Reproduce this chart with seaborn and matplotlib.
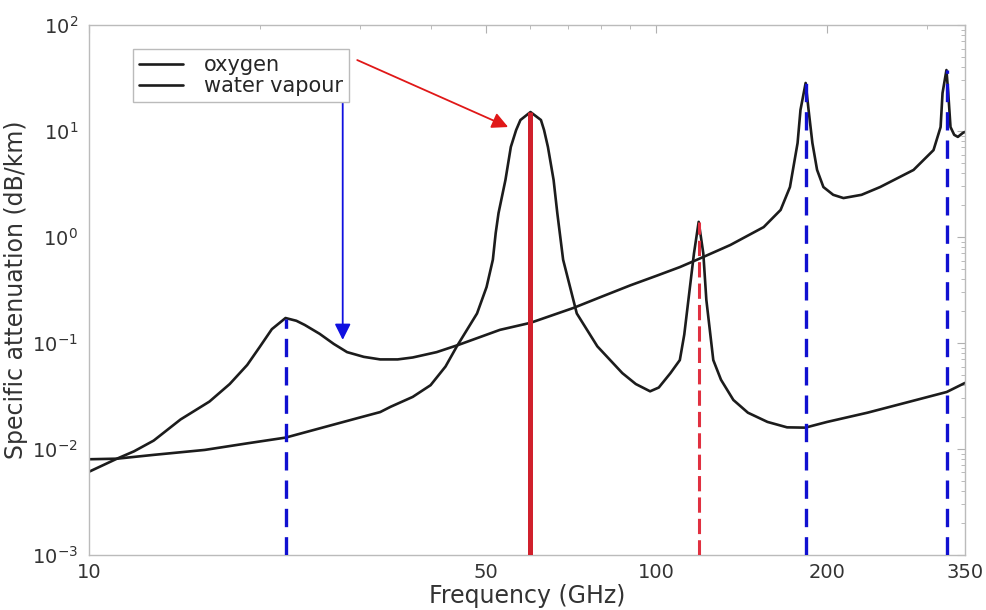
import matplotlib
matplotlib.use("Agg")
import matplotlib.pyplot as plt
import matplotlib.ticker as mticker
import seaborn as sns
import pandas as pd

# oxygen specific attenuation (dB/km)
freq_o2 = [10, 11.2, 13, 16, 19, 22.2, 27, 30, 32.6, 34, 37.2, 40, 42.5, 44.5,
           48.3, 50.2, 51.5, 52.1, 52.7, 54.2, 55.4, 56.6, 57.6, 60, 62.6, 63.4,
           64.4, 65.9, 66.9, 68.5, 72.4, 78.7, 87.1, 92, 97.5, 101, 105.9, 110,
           112, 113.9, 116.5, 118.75, 121, 122.5, 126, 130, 136.7, 145, 157,
           170, 183, 200, 235.6, 280, 325, 350]
att_o2 = [0.0080, 0.0081, 0.0088, 0.0098, 0.0113, 0.0128, 0.0170, 0.0198,
          0.0223, 0.025, 0.031, 0.040, 0.060, 0.093, 0.19, 0.337, 0.61, 1.09,
          1.68, 3.45, 7.07, 10.2, 12.7, 15.1, 12.7, 10.2, 7.07, 3.45, 1.68,
          0.61, 0.19, 0.093, 0.052, 0.041, 0.035, 0.038, 0.052, 0.069, 0.12,
          0.255, 0.7, 1.39, 0.7, 0.255, 0.069, 0.045, 0.029, 0.022, 0.018,
          0.016, 0.0159, 0.018, 0.022, 0.028, 0.0345, 0.042]

# water vapour specific attenuation (dB/km)
freq_h2o = [10, 11.2, 12, 13, 14.5, 16.3, 17.7, 19, 20, 21, 22.2, 23.2, 24,
            25.5, 27, 28.5, 30.5, 32.6, 35, 37.2, 41, 44.8, 53, 60, 71.4, 79.6,
            90, 100, 110, 118.75, 135, 154.6, 165.6, 172, 177.4, 179.5, 183.3,
            185.5, 188.4, 192, 197, 205, 213.7, 230, 248, 284, 308, 317, 319.5,
            324.6, 327, 330, 335, 340, 347, 350]
att_h2o = [0.0061, 0.0081, 0.0095, 0.012, 0.019, 0.028, 0.041, 0.062, 0.092,
           0.135, 0.172, 0.162, 0.148, 0.122, 0.098, 0.082, 0.074, 0.070,
           0.070, 0.073, 0.082, 0.096, 0.133, 0.155, 0.214, 0.27, 0.35, 0.43,
           0.52, 0.62, 0.84, 1.24, 1.8, 2.96, 7.7, 15.8, 28.4, 15.8, 7.7, 4.3,
           2.96, 2.5, 2.33, 2.5, 2.96, 4.29, 6.6, 10.9, 22.8, 37.6, 22.8, 10.9,
           9.2, 8.8, 9.6, 9.8]

# absorption lines: frequency (GHz) and height of the marker line
line_freq = [22.235, 60, 118.75, 183.31, 325.15]
line_top = [0.17, 15.1, 1.39, 28.4, 37.6]

# arrow end points (GHz, dB/km)
arrow_o2 = [(29.7, 46.7), (54.8, 10.9)]
arrow_h2o = [(28.0, 18.8), (28.0, 0.107)]

xtick_vals = [10, 50, 100, 200, 350]
xtick_labels = ["10", "50", "100", "200", "350"]

sns.set_style("white")
plt.rcParams["font.family"] = ["DejaVu Sans"]

fig = plt.figure(figsize=(9.86, 6.10), dpi=100)
ax = fig.add_axes([0.0903, 0.0902, 0.8884, 0.8688])

df_o2 = pd.DataFrame({"freq": freq_o2, "att": att_o2})
df_h2o = pd.DataFrame({"freq": freq_h2o, "att": att_h2o})
sns.lineplot(data=df_o2, x="freq", y="att", ax=ax, color="#1c1c1c", lw=1.9,
             sort=False, estimator=None, label="oxygen")
sns.lineplot(data=df_h2o, x="freq", y="att", ax=ax, color="#1c1c1c", lw=1.9,
             sort=False, estimator=None, label="water vapour")

# line markers drawn over the curves
line_styles = [
    dict(color="#1010d0", lw=2.4, linestyles=(0, (5.5, 3))),
    dict(color="#d0202c", lw=3.6, linestyles="solid"),
    dict(color="#e03040", lw=2.2, linestyles=(0, (5, 2))),
    dict(color="#1010d0", lw=2.4, linestyles=(0, (5.5, 3))),
    dict(color="#1010d0", lw=2.4, linestyles=(0, (5.5, 3))),
]
for f, top, st in zip(line_freq, line_top, line_styles):
    ax.vlines(f, 1e-3, top, colors=st["color"], lw=st["lw"],
              linestyles=st["linestyles"], zorder=3)

ax.annotate("", xy=arrow_o2[1], xytext=arrow_o2[0],
            arrowprops=dict(arrowstyle="-|>", color="#e01818", lw=1.3,
                            mutation_scale=24, shrinkA=0, shrinkB=0))
ax.annotate("", xy=arrow_h2o[1], xytext=arrow_h2o[0],
            arrowprops=dict(arrowstyle="-|>", color="#1010e0", lw=1.3,
                            mutation_scale=24, shrinkA=0, shrinkB=0))

ax.set_xscale("log")
ax.set_yscale("log")
ax.set_xlim(10, 350)
ax.set_ylim(1e-3, 1e2)

ax.xaxis.set_major_locator(mticker.FixedLocator(xtick_vals))
ax.xaxis.set_major_formatter(mticker.FixedFormatter(xtick_labels))
ax.xaxis.set_minor_locator(mticker.LogLocator(subs=range(2, 10), numticks=20))
ax.xaxis.set_minor_formatter(mticker.NullFormatter())
ax.yaxis.set_major_locator(mticker.LogLocator(numticks=10))
ax.yaxis.set_minor_locator(mticker.LogLocator(subs=range(2, 10), numticks=20))

ax.tick_params(which="both", direction="in", top=True, right=True,
               color="#b0b0b0", labelcolor="#333333", labelsize=14)
ax.tick_params(which="major", length=6)
ax.tick_params(which="minor", length=3)
ax.tick_params(axis="y", which="major", pad=8)
ax.tick_params(axis="x", which="major", pad=6)
for sp in ax.spines.values():
    sp.set_color("#bbbbbb")
    sp.set_linewidth(1.0)

ax.set_xlabel("Frequency (GHz)", fontsize=17, color="#333333", labelpad=1)
ax.set_ylabel("Specific attenuation (dB/km)", fontsize=17, color="#333333",
              labelpad=3)

leg = ax.legend(loc="upper left", bbox_to_anchor=(0.050, 0.955), fontsize=15,
                frameon=True, fancybox=False, framealpha=1, edgecolor="#bbbbbb",
                handlelength=2.1, handletextpad=1.0, borderpad=0.3,
                labelspacing=0.05, borderaxespad=0)
leg.get_frame().set_linewidth(1.0)

fig.savefig("out.png", dpi=100)
